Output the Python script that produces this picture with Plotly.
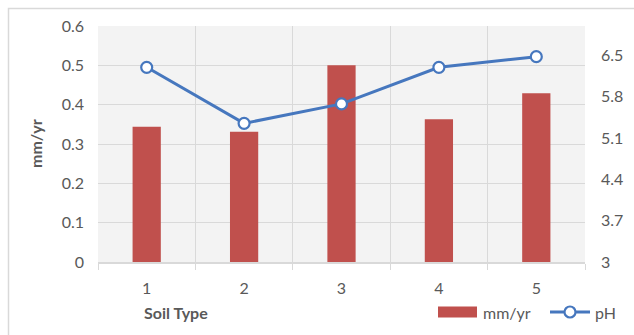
import plotly.graph_objects as go

# Corrosion rate (mm/yr) and pH for each soil type
soil_types = [1, 2, 3, 4, 5]
rate_mm_yr = [0.344, 0.331, 0.50, 0.363, 0.429]
ph_values = [6.3, 5.35, 5.68, 6.3, 6.48]

left_ticks = [0, 0.1, 0.2, 0.3, 0.4, 0.5, 0.6]
right_ticks = [3, 3.7, 4.4, 5.1, 5.8, 6.5]

BAR_COLOR = "#c0504d"
LINE_COLOR = "#4677be"
TEXT = "#595959"
GRID = "#d9d9d9"
FONT = "Lato, 'Open Sans', sans-serif"
FS = 16

L, R, T, B = 98, 49, 26, 73
W, H = 634, 335
pw, ph = W - L - R, H - T - B


def px_x(x):
    """pixel column -> paper x"""
    return (x - L) / pw


def px_y(y):
    """pixel row -> paper y"""
    return (T + ph - y) / ph


fig = go.Figure()

fig.add_trace(go.Bar(
    x=soil_types, y=rate_mm_yr, name="mm/yr",
    marker=dict(color=BAR_COLOR, line=dict(width=0)),
    width=0.29, yaxis="y",
))

fig.add_trace(go.Scatter(
    x=soil_types, y=ph_values, name="pH", yaxis="y2",
    mode="lines+markers",
    line=dict(color=LINE_COLOR, width=3),
    marker=dict(symbol="circle", size=11, color="white",
                line=dict(color=LINE_COLOR, width=2.2)),
))

fig.update_layout(
    width=W, height=H,
    margin=dict(l=L, r=R, t=T, b=B),
    paper_bgcolor="white",
    plot_bgcolor="#f3f3f3",
    font=dict(family=FONT, size=FS, color=TEXT),
    showlegend=False,
    xaxis=dict(
        range=[0.5, 5.5], tickvals=soil_types, ticktext=[str(s) for s in soil_types],
        showgrid=False, ticks="", zeroline=False,
        showline=True, linecolor=GRID, linewidth=1.5,
        minor=dict(tick0=0.5, dtick=1, showgrid=True, gridcolor=GRID, gridwidth=1.3,
                   ticks="outside", ticklen=6, tickcolor=GRID, tickwidth=1.3),
        tickfont=dict(size=FS, color=TEXT), ticklabelstandoff=11,
    ),
    yaxis=dict(
        range=[0, 0.6], tickvals=left_ticks, ticktext=[f"{v:g}" for v in left_ticks],
        showgrid=True, gridcolor=GRID, gridwidth=1.3, zeroline=False,
        ticks="", tickfont=dict(size=FS, color=TEXT), ticklabelstandoff=13,
    ),
    yaxis2=dict(
        range=[3, 7], overlaying="y", side="right",
        tickvals=right_ticks, ticktext=[f"{v:g}" for v in right_ticks],
        showgrid=False, zeroline=False, ticks="",
        tickfont=dict(size=FS, color=TEXT), ticklabelstandoff=15,
    ),
    bargap=0.71,
)

# axis titles
fig.add_annotation(text="<b>mm/yr</b>", xref="paper", yref="paper",
                   x=px_x(35), y=0.5, xanchor="center", yanchor="middle",
                   textangle=-90, showarrow=False, font=dict(size=FS, color=TEXT))
fig.add_annotation(text="<b>Soil Type</b>", xref="paper", yref="paper",
                   x=px_x(176), y=px_y(312), xanchor="center", yanchor="middle",
                   showarrow=False, font=dict(size=FS, color=TEXT))

# legend: bar swatch + label
fig.add_shape(type="rect", xref="paper", yref="paper",
              x0=px_x(438), x1=px_x(477), y0=px_y(317.5), y1=px_y(306.5),
              line=dict(width=0), fillcolor=BAR_COLOR)
fig.add_annotation(text="mm/yr", xref="paper", yref="paper",
                   x=px_x(481), y=px_y(312), xanchor="left", yanchor="middle",
                   showarrow=False, font=dict(size=FS, color=TEXT))
# legend: line swatch with marker + label
fig.add_shape(type="line", xref="paper", yref="paper",
              x0=px_x(550), x1=px_x(590), y0=px_y(312), y1=px_y(312),
              line=dict(color=LINE_COLOR, width=3))
fig.add_shape(type="circle", xref="paper", yref="paper",
              x0=px_x(564.5), x1=px_x(575.5), y0=px_y(317.5), y1=px_y(306.5),
              line=dict(color=LINE_COLOR, width=2.2), fillcolor="white")
fig.add_annotation(text="pH", xref="paper", yref="paper",
                   x=px_x(593), y=px_y(312), xanchor="left", yanchor="middle",
                   showarrow=False, font=dict(size=FS, color=TEXT))

# chart frame
fig.add_shape(type="rect", xref="paper", yref="paper",
              x0=px_x(8.5), x1=px_x(W + 20), y0=px_y(H + 20), y1=px_y(8.5),
              line=dict(color=GRID, width=1.5), fillcolor="rgba(0,0,0,0)", layer="below")

fig.write_html("out.html")
